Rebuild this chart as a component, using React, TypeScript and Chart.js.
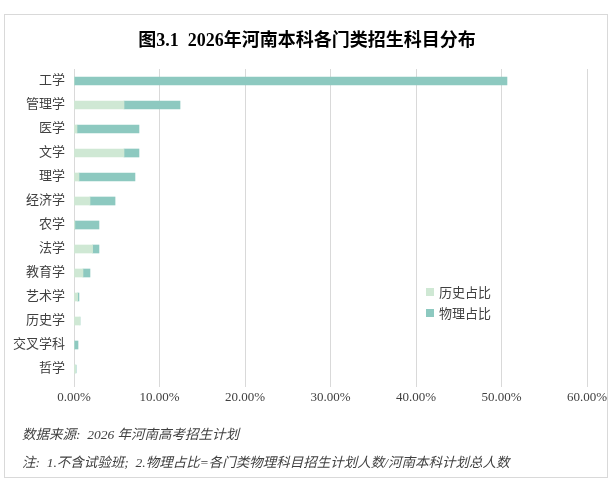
import React, { useEffect, useRef } from "react";
import { Chart, registerables } from "chart.js";

Chart.register(...registerables);

const categories = ["工学", "管理学", "医学", "文学", "理学", "经济学", "农学", "法学", "教育学", "艺术学", "历史学", "交叉学科", "哲学"];
const historyShare = [0, 5.85, 0.35, 5.85, 0.58, 1.87, 0.1, 2.18, 1.05, 0.43, 0.7, 0, 0.2];
const physicsShare = [50.64, 6.55, 7.25, 1.75, 6.55, 2.93, 2.82, 0.74, 0.82, 0.15, 0, 0.47, 0.05];
const seriesNames = ["历史占比", "物理占比"];
const seriesColors = ["#CFE8D4", "#8DC9C0"];
const xMax = 60;
const xStep = 10;

const titleText = "图3.1  2026年河南本科各门类招生科目分布";
const sourceNote = "数据来源:  2026 年河南高考招生计划";
const footNote = "注:  1.不含试验班;  2.物理占比=各门类物理科目招生计划人数/河南本科计划总人数";

const FONT = "'Liberation Serif', 'Noto Sans CJK SC', serif";

export default function App() {
  const ref = useRef<HTMLCanvasElement | null>(null);

  useEffect(() => {
    if (!ref.current) return;
    const chart = new Chart(ref.current, {
      type: "bar",
      data: {
        labels: categories,
        datasets: [
          { label: seriesNames[0], data: historyShare, backgroundColor: seriesColors[0], barThickness: 8 },
          { label: seriesNames[1], data: physicsShare, backgroundColor: seriesColors[1], barThickness: 8 },
        ],
      },
      options: {
        indexAxis: "y",
        responsive: false,
        animation: false,
        layout: { padding: { left: 0, right: 27, top: 69, bottom: 75.4 } },
        plugins: {
          legend: { display: false },
          tooltip: { enabled: false },
          title: { display: false },
        },
        scales: {
          x: {
            stacked: true,
            min: 0,
            max: xMax,
            ticks: {
              stepSize: xStep,
              padding: 3,
              color: "#404040",
              font: { family: FONT, size: 13 },
              callback: (v: any) => Number(v).toFixed(2) + "%",
            },
            grid: { color: "#d9d9d9", tickLength: 6 },
            border: { display: false },
          },
          y: {
            stacked: true,
            grid: { display: false },
            border: { display: false },
            ticks: {
              padding: 1,
              color: "#404040",
              font: { family: FONT, size: 13 },
            },
            afterFit: (scale: any) => {
              scale.width = 74;
            },
          },
        },
      },
    });
    return () => chart.destroy();
  }, []);

  return (
    <div style={{ position: "absolute", left: 0, top: 0, width: 614, height: 484, background: "#fff", fontFamily: FONT }}>
      <div style={{ position: "absolute", left: 4, top: 14, width: 602, height: 462, border: "1px solid #d9d9d9" }} />
      <canvas ref={ref} width={614} height={484} style={{ position: "absolute", left: 0, top: 0 }} />
      <div style={{ position: "absolute", left: 0, top: 28, width: 614, textAlign: "center", fontSize: 18, fontWeight: "bold", color: "#000", lineHeight: "24px" }}>
        {titleText.replace("  ", "\u00a0\u00a0")}
      </div>
      <div style={{ position: "absolute", left: 426, top: 281 }}>
        {seriesNames.map((n, i) => (
          <div key={n} style={{ display: "flex", alignItems: "center", height: 21, fontSize: 13, color: "#404040" }}>
            <span style={{ display: "inline-block", width: 8, height: 8, background: seriesColors[i], marginRight: 5 }} />
            <span>{n}</span>
          </div>
        ))}
      </div>
      <div style={{ position: "absolute", left: 22, top: 423, fontSize: 13.5, fontStyle: "italic", color: "#404040", whiteSpace: "pre" }}>
        {sourceNote}
      </div>
      <div style={{ position: "absolute", left: 22, top: 451, fontSize: 13.5, fontStyle: "italic", color: "#404040", whiteSpace: "pre" }}>
        {footNote}
      </div>
    </div>
  );
}
